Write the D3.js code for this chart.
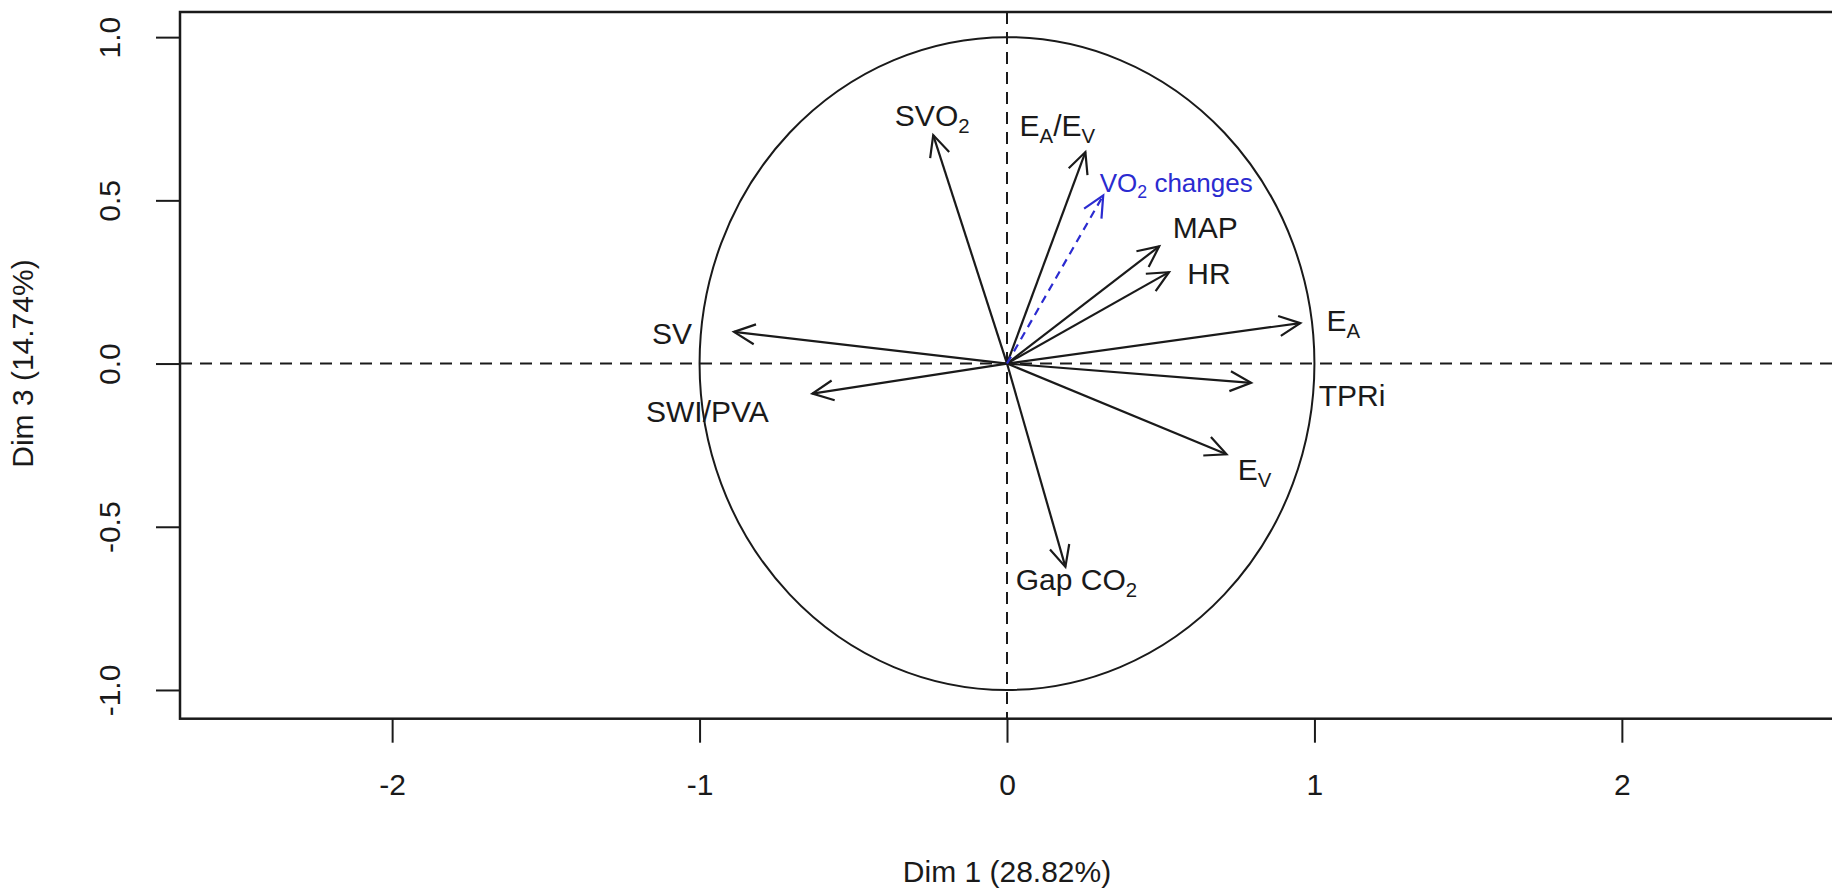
<!DOCTYPE html>
<html>
<head>
<meta charset="utf-8">
<script src="https://cdn.jsdelivr.net/npm/d3@7"></script>
<style>
  body { margin: 0; background: #fff; }
  text { font-family: "Liberation Sans", Arial, Helvetica, sans-serif; fill: #1a1a1a; }
</style>
</head>
<body>
<div id="chart"></div>
<script>
var width_chart = 1832,
    height_chart = 888;

// active variables (coordinates on Dim 1 / Dim 3), "_x" = subscript
var var_names = ["SVO_2", "E_A/E_V", "MAP", "HR", "E_A", "SV", "TPRi", "SWI/PVA", "E_V", "Gap CO_2"];
var dim1 = [-0.240, 0.255, 0.495, 0.527, 0.954, -0.888, 0.794, -0.633, 0.714, 0.190];
var dim3 = [0.700, 0.648, 0.359, 0.280, 0.124, 0.097, -0.059, -0.092, -0.278, -0.623];

// supplementary variable
var sup_names = ["VO_2 changes"];
var sup_dim1 = [0.313];
var sup_dim3 = [0.515];

var x_ticks = [-2, -1, 0, 1, 2];
var y_ticks = [-1.0, -0.5, 0.0, 0.5, 1.0];
var x_title = "Dim 1 (28.82%)";
var y_title = "Dim 3 (14.74%)";

// label placement, pixels from the arrow tip
var label_dx = [-1, -28, 46, 40, 43, -62, 101, -105, 28, 11];
var label_dy = [-20, -27, -19, 1, -3, 1, 12, 18, 15, 12];
var sup_dx = [73], sup_dy = [-13];

var font_size = 30;
var box = { left: 180, top: 12, bottom: 718.7, right: 1834 };

var x = d3.scaleLinear().domain([-2.69, 2.69]).range([box.left, box.right]);
var y = d3.scaleLinear().domain([-1.088, 1.077]).range([box.bottom, box.top]);

// R style numbers: plain hyphen for the minus sign
function fmt_x(d) { return String(d).replace("\u2212", "-"); }
function fmt_y(d) { return d.toFixed(1); }

var svg = d3.select("#chart").append("svg")
    .attr("width", width_chart)
    .attr("height", height_chart);

var defs = svg.append("defs");
function marker(id, col) {
  defs.append("marker")
    .attr("id", id)
    .attr("markerUnits", "userSpaceOnUse")
    .attr("viewBox", "-24 -13 28 26")
    .attr("refX", 0).attr("refY", 0)
    .attr("markerWidth", 28).attr("markerHeight", 26)
    .attr("orient", "auto")
    .append("path")
    .attr("d", "M-21,-10L0,0L-21,10")
    .attr("fill", "none")
    .attr("stroke", col)
    .attr("stroke-width", 2.2);
}
marker("head", "#1a1a1a");
marker("head_blue", "#2b2bd0");

// dashed axes through the origin
svg.append("line")
  .attr("x1", box.left).attr("x2", box.right)
  .attr("y1", y(0)).attr("y2", y(0))
  .attr("stroke", "#1a1a1a").attr("stroke-width", 2)
  .attr("stroke-dasharray", "12,8");
svg.append("line")
  .attr("x1", x(0)).attr("x2", x(0))
  .attr("y1", box.top).attr("y2", box.bottom)
  .attr("stroke", "#1a1a1a").attr("stroke-width", 2)
  .attr("stroke-dasharray", "12,8");

// unit circle
svg.append("ellipse")
  .attr("cx", x(0)).attr("cy", y(0))
  .attr("rx", x(1) - x(0)).attr("ry", y(0) - y(1))
  .attr("fill", "none").attr("stroke", "#1a1a1a").attr("stroke-width", 2);

// axes
var xAxis = svg.append("g")
  .attr("transform", "translate(0," + box.bottom + ")")
  .call(d3.axisBottom(x).tickValues(x_ticks).tickSize(24).tickFormat(fmt_x));
xAxis.select(".domain").remove();
xAxis.selectAll("line").attr("stroke", "#1a1a1a").attr("stroke-width", 2);
xAxis.selectAll("text")
  .attr("y", 76).attr("dy", 0)
  .style("font-size", font_size + "px")
  .attr("fill", "#1a1a1a");

var yAxis = svg.append("g")
  .attr("transform", "translate(" + box.left + ",0)")
  .call(d3.axisLeft(y).tickValues(y_ticks).tickSize(24).tickFormat(fmt_y));
yAxis.select(".domain").remove();
yAxis.selectAll("line").attr("stroke", "#1a1a1a").attr("stroke-width", 2);
yAxis.selectAll("text")
  .attr("x", 0).attr("dy", 0)
  .attr("text-anchor", "middle")
  .attr("transform", "translate(-60,0) rotate(-90)")
  .style("font-size", font_size + "px")
  .attr("fill", "#1a1a1a");

// frame
svg.append("rect")
  .attr("x", box.left).attr("y", box.top)
  .attr("width", box.right - box.left).attr("height", box.bottom - box.top)
  .attr("fill", "none").attr("stroke", "#1a1a1a").attr("stroke-width", 2.5);

// axis titles
svg.append("text")
  .attr("x", x(0)).attr("y", 882)
  .attr("text-anchor", "middle")
  .style("font-size", font_size + "px")
  .text(x_title);
svg.append("text")
  .attr("transform", "translate(33," + y(0) + ") rotate(-90)")
  .attr("text-anchor", "middle")
  .style("font-size", font_size + "px")
  .text(y_title);

// write a label with "_x" subscripts
function write_label(sel, name, size) {
  var shift = Math.round(size * 0.24);
  var pending = 0;
  name.split(/(_.)/).forEach(function(p) {
    if (p === "") return;
    if (p[0] === "_") {
      sel.append("tspan")
        .attr("dy", shift + pending)
        .style("font-size", (size * 0.68) + "px")
        .text(p[1]);
      pending = -shift;
    } else {
      sel.append("tspan")
        .attr("dy", pending)
        .style("font-size", size + "px")
        .text(p);
      pending = 0;
    }
  });
}

var active = var_names.map(function(n, i) {
  return { name: n, x: dim1[i], y: dim3[i], dx: label_dx[i], dy: label_dy[i] };
});
var supp = sup_names.map(function(n, i) {
  return { name: n, x: sup_dim1[i], y: sup_dim3[i], dx: sup_dx[i], dy: sup_dy[i] };
});

svg.selectAll("line.arrow")
  .data(active)
  .enter().append("line")
  .attr("class", "arrow")
  .attr("x1", x(0)).attr("y1", y(0))
  .attr("x2", function(d) { return x(d.x); })
  .attr("y2", function(d) { return y(d.y); })
  .attr("stroke", "#1a1a1a").attr("stroke-width", 2.2)
  .attr("marker-end", "url(#head)");

svg.selectAll("line.sup")
  .data(supp)
  .enter().append("line")
  .attr("class", "sup")
  .attr("x1", x(0)).attr("y1", y(0))
  .attr("x2", function(d) { return x(d.x); })
  .attr("y2", function(d) { return y(d.y); })
  .attr("stroke", "#2b2bd0").attr("stroke-width", 2.2)
  .attr("stroke-dasharray", "8,6")
  .attr("marker-end", "url(#head_blue)");

svg.selectAll("text.varlab")
  .data(active)
  .enter().append("text")
  .attr("class", "varlab")
  .attr("x", function(d) { return x(d.x) + d.dx; })
  .attr("y", function(d) { return y(d.y) + d.dy + font_size * 0.36; })
  .attr("text-anchor", "middle")
  .each(function(d) { write_label(d3.select(this), d.name, font_size); });

svg.selectAll("text.suplab")
  .data(supp)
  .enter().append("text")
  .attr("class", "suplab")
  .attr("x", function(d) { return x(d.x) + d.dx; })
  .attr("y", function(d) { return y(d.y) + d.dy + 26 * 0.36; })
  .attr("text-anchor", "middle")
  .style("fill", "#2b2bd0")
  .each(function(d) {
    write_label(d3.select(this), d.name, 26);
    d3.select(this).selectAll("tspan").style("fill", "#2b2bd0");
  });
</script>
</body>
</html>
